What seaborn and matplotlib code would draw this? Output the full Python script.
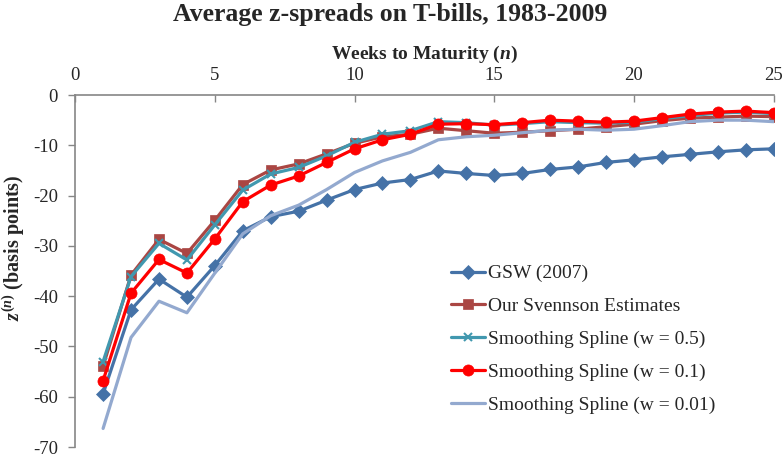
import numpy as np
import pandas as pd
import seaborn as sns
import matplotlib
matplotlib.use('Agg')
import matplotlib.pyplot as plt

# 데이터
weeks = list(range(1, 26))
gsw = [-59.4, -42.7, -36.6, -40.2, -33.9, -27.0, -24.2, -23.1, -20.9, -18.8,
       -17.5, -16.8, -15.1, -15.6, -16.0, -15.6, -14.8, -14.3, -13.4, -12.9,
       -12.3, -11.8, -11.3, -10.9, -10.7]
svensson = [-53.9, -35.8, -28.7, -31.5, -24.9, -17.8, -14.9, -13.7, -11.7, -9.6,
            -8.3, -7.8, -6.6, -7.1, -7.6, -7.4, -7.1, -6.8, -6.3, -5.8,
            -5.1, -4.6, -4.4, -4.2, -4.3]
spline_05 = [-53.0, -36.1, -29.5, -32.8, -25.8, -18.9, -15.7, -14.4, -12.1, -9.4,
             -7.8, -7.1, -5.3, -5.5, -6.0, -5.7, -5.3, -5.5, -5.6, -5.4,
             -4.7, -4.1, -3.6, -3.4, -3.7]
spline_01 = [-56.8, -39.4, -32.7, -35.4, -28.6, -21.2, -17.9, -16.1, -13.4, -10.7,
             -8.9, -7.8, -5.8, -5.7, -5.9, -5.5, -5.0, -5.2, -5.4, -5.2,
             -4.5, -3.8, -3.4, -3.2, -3.5]
spline_001 = [-66.3, -48.2, -41.0, -43.3, -35.4, -27.6, -24.0, -21.9, -18.8, -15.4,
              -13.1, -11.4, -8.9, -8.3, -8.0, -7.5, -7.0, -6.8, -7.0, -6.8,
              -6.1, -5.3, -5.0, -5.0, -5.3]

labels = ['GSW (2007)', 'Our Svennson Estimates', 'Smoothing Spline (w = 0.5)',
          'Smoothing Spline (w = 0.1)', 'Smoothing Spline (w = 0.01)']
series = [gsw, svensson, spline_05, spline_01, spline_001]
colors = ['#4572A7', '#AA4643', '#4198AF', '#FF0000', '#93A9CF']
markers = ['D', 's', 'x', 'o', None]
msizes = [7, 7, 6, 8, 0]

sns.set_style('white')
plt.rcParams['font.family'] = ['Liberation Serif', 'DejaVu Serif']
plt.rcParams['axes.unicode_minus'] = False
plt.rcParams['mathtext.fontset'] = 'custom'
plt.rcParams['mathtext.rm'] = 'Liberation Serif:bold'
plt.rcParams['mathtext.it'] = 'Liberation Serif:italic:bold'
plt.rcParams['mathtext.bf'] = 'Liberation Serif:bold'

fig = plt.figure(figsize=(7.83, 4.59), dpi=100)
ax = fig.add_axes([0.096, 0.026, 0.892, 0.767])

for lab, vals, c, m, ms in zip(labels, series, colors, markers, msizes):
    df = pd.DataFrame({'n': weeks, 'z': vals})
    sns.lineplot(data=df, x='n', y='z', ax=ax, color=c, marker=m, markersize=ms,
                 markeredgecolor=c, markeredgewidth=1.5 if m == 'x' else 0.5,
                 linewidth=2.3, label=lab)

ax.set_xlim(0, 25)
ax.set_ylim(-70, 0)
ax.set_xticks(range(0, 26, 5))
ax.set_yticks(range(-70, 1, 10))
ax.xaxis.tick_top()
ax.xaxis.set_label_position('top')
ax.tick_params(axis='x', direction='in', length=5, width=1, color='#868686', labelsize=13.5, pad=8)
ax.tick_params(axis='y', direction='out', length=5, width=1, color='#868686', labelsize=13.5, left=True, pad=7.5)
for s in ['right', 'bottom']:
    ax.spines[s].set_visible(False)
for s in ['left', 'top']:
    ax.spines[s].set_color('#868686')
    ax.spines[s].set_linewidth(1.2)

ax.set_xlabel(r'Weeks to Maturity ($\mathit{n}$)', fontsize=14, fontweight='bold', labelpad=6)
ax.set_ylabel(r'$\mathit{z}^{(\mathit{n})}$ (basis points)', fontsize=14.5, fontweight='bold')
ax.yaxis.set_label_coords(-0.069, 0.565)
fig.text(0.498, 1 - 21 / 459, 'Average z-spreads on T-bills, 1983-2009',
         fontsize=18.5, fontweight='bold', ha='center', va='baseline')

leg = ax.legend(loc='upper left', bbox_to_anchor=(0.538, 0.518), frameon=False, fontsize=14,
                borderaxespad=0, borderpad=0,
                handlelength=1.75, labelspacing=0.78, handletextpad=0.15)

fig.savefig('out.png', dpi=100)
